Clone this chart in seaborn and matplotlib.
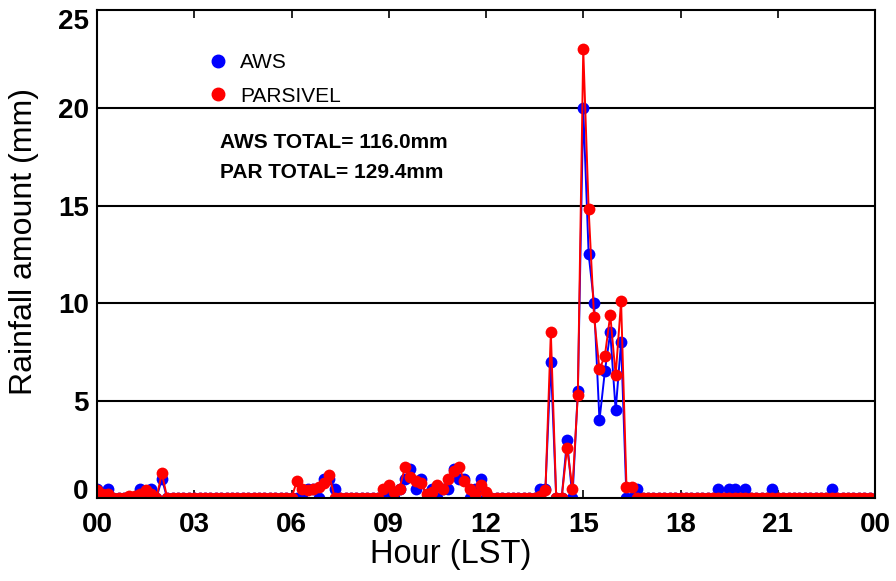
import numpy as np
import pandas as pd
import matplotlib
matplotlib.use("Agg")
import matplotlib.pyplot as plt
import matplotlib.transforms as mtransforms
from matplotlib.lines import Line2D
import seaborn as sns

# 10-minute rainfall (mm), one row per hour, 00:00 .. 23:50
AWS = [
    0.5, 0.0, 0.5, 0.0, 0.0, 0.0,   # 00
    0.0, 0.0, 0.5, 0.0, 0.5, 0.0,   # 01
    1.0, 0.0, 0.0, 0.0, 0.0, 0.0,   # 02
    0.0, 0.0, 0.0, 0.0, 0.0, 0.0,   # 03
    0.0, 0.0, 0.0, 0.0, 0.0, 0.0,   # 04
    0.0, 0.0, 0.0, 0.0, 0.0, 0.0,   # 05
    0.0, 0.0, 0.0, 0.5, 0.5, 0.0,   # 06
    1.0, 1.0, 0.5, 0.0, 0.0, 0.0,   # 07
    0.0, 0.0, 0.0, 0.0, 0.0, 0.0,   # 08
    0.5, 0.0, 0.5, 1.0, 1.5, 0.5,   # 09
    1.0, 0.0, 0.5, 0.0, 0.5, 0.5,   # 10
    1.5, 1.0, 1.0, 0.0, 0.5, 1.0,   # 11
    0.0, 0.0, 0.0, 0.0, 0.0, 0.0,   # 12
    0.0, 0.0, 0.0, 0.0, 0.5, 0.5,   # 13
    7.0, 0.0, 0.0, 3.0, 0.0, 5.5,   # 14
    20.0, 12.5, 10.0, 4.0, 6.5, 8.5,  # 15
    4.5, 8.0, 0.0, 0.0, 0.5, 0.0,   # 16
    0.0, 0.0, 0.0, 0.0, 0.0, 0.0,   # 17
    0.0, 0.0, 0.0, 0.0, 0.0, 0.0,   # 18
    0.0, 0.5, 0.0, 0.5, 0.5, 0.0,   # 19
    0.5, 0.0, 0.0, 0.0, 0.0, 0.5,   # 20
    0.0, 0.0, 0.0, 0.0, 0.0, 0.0,   # 21
    0.0, 0.0, 0.0, 0.0, 0.5, 0.0,   # 22
    0.0, 0.0, 0.0, 0.0, 0.0, 0.0,   # 23
]

PARSIVEL = [
    0.4, 0.2, 0.2, 0.0, 0.0, 0.0,   # 00
    0.1, 0.1, 0.2, 0.4, 0.2, 0.0,   # 01
    1.3, 0.0, 0.0, 0.0, 0.0, 0.0,   # 02
    0.0, 0.0, 0.0, 0.0, 0.0, 0.0,   # 03
    0.0, 0.0, 0.0, 0.0, 0.0, 0.0,   # 04
    0.0, 0.0, 0.0, 0.0, 0.0, 0.0,   # 05
    0.0, 0.9, 0.5, 0.4, 0.5, 0.6,   # 06
    0.8, 1.2, 0.0, 0.0, 0.0, 0.0,   # 07
    0.0, 0.0, 0.0, 0.0, 0.0, 0.5,   # 08
    0.7, 0.3, 0.5, 1.6, 1.1, 0.9,   # 09
    0.8, 0.2, 0.3, 0.7, 0.5, 1.0,   # 10
    1.4, 1.6, 0.9, 0.5, 0.2, 0.7,   # 11
    0.3, 0.0, 0.0, 0.0, 0.0, 0.0,   # 12
    0.0, 0.0, 0.0, 0.0, 0.1, 0.4,   # 13
    8.5, 0.0, 0.0, 2.6, 0.5, 5.3,   # 14
    23.0, 14.8, 9.3, 6.6, 7.3, 9.4,  # 15
    6.3, 10.1, 0.6, 0.6, 0.0, 0.0,  # 16
    0.0, 0.0, 0.0, 0.0, 0.0, 0.0,   # 17
    0.0, 0.0, 0.0, 0.0, 0.0, 0.0,   # 18
    0.0, 0.0, 0.0, 0.0, 0.0, 0.0,   # 19
    0.0, 0.0, 0.0, 0.0, 0.0, 0.0,   # 20
    0.0, 0.0, 0.0, 0.0, 0.0, 0.0,   # 21
    0.0, 0.0, 0.0, 0.0, 0.0, 0.0,   # 22
    0.0, 0.0, 0.0, 0.0, 0.0, 0.0,   # 23
]

AWS_TOTAL = 116.0
PAR_TOTAL = 129.4

XTICKS = [0, 3, 6, 9, 12, 15, 18, 21, 24]
XTICK_LABELS = ["00", "03", "06", "09", "12", "15", "18", "21", "00"]
YTICKS = [0, 5, 10, 15, 20, 25]

hours = np.arange(len(AWS)) * 10 / 60.0
df = pd.concat([
    pd.DataFrame({"hour": hours, "rain": AWS, "source": "AWS"}),
    pd.DataFrame({"hour": hours, "rain": PARSIVEL, "source": "PARSIVEL"}),
])

sns.set_style("white")
plt.rcParams["font.family"] = ["Liberation Sans", "DejaVu Sans"]
plt.rcParams["text.color"] = "black"
plt.rcParams["axes.labelcolor"] = "black"

fig = plt.figure(figsize=(8.96, 5.81), dpi=100)
ax = fig.add_axes([97 / 896, 1 - 498.3 / 581, 778 / 896, 487.9 / 581])

sns.lineplot(data=df, x="hour", y="rain", hue="source",
             palette={"AWS": "blue", "PARSIVEL": "red"},
             marker="o", markersize=8.5, markeredgewidth=0,
             linewidth=1.4, estimator=None, legend=False, ax=ax)

ax.set_xlim(0, 24)
ax.set_ylim(0, 25)
ax.set_xticks(XTICKS)
ax.set_xticklabels(XTICK_LABELS)
ax.set_yticks(YTICKS)
for y in YTICKS[1:-1]:
    ax.axhline(y, color="black", lw=1.5, zorder=0)

for s in ax.spines.values():
    s.set_color("black")
    s.set_linewidth(1.5)
    s.set_visible(True)

ax.tick_params(axis="x", direction="in", length=6, width=1.2, top=True,
               bottom=True, pad=10, labelsize=20, colors="black")
ax.tick_params(axis="y", direction="in", length=0, pad=6, labelsize=20,
               colors="black")
for lab in ax.get_xticklabels() + ax.get_yticklabels():
    lab.set_fontweight("bold")

# end labels on the y axis sit inside the axis range
ylabs = ax.get_yticklabels()
ylabs[0].set_transform(ylabs[0].get_transform() +
                       mtransforms.ScaledTranslation(0, 7 / 72, fig.dpi_scale_trans))
ylabs[-1].set_transform(ylabs[-1].get_transform() +
                        mtransforms.ScaledTranslation(0, -6 / 72, fig.dpi_scale_trans))

ax.set_xlabel("Hour (LST)", fontsize=23.5)
ax.set_ylabel("Rainfall amount (mm)", fontsize=23)
ax.xaxis.set_label_coords(0.455, -0.083)
ax.yaxis.set_label_coords(-0.074, 0.527)

handles = [
    Line2D([], [], marker="o", color="blue", linestyle="None", markersize=9),
    Line2D([], [], marker="o", color="red", linestyle="None", markersize=9),
]
fig.legend(handles, ["AWS", "PARSIVEL"], loc="upper left",
           bbox_to_anchor=(207.6 / 896, 1 - 53 / 581), frameon=False,
           fontsize=15, handlelength=1.0, handletextpad=0.56,
           labelspacing=0.7, borderpad=0, borderaxespad=0)

ax.text(0.158, 0.730, f"AWS TOTAL= {AWS_TOTAL:.1f}mm", transform=ax.transAxes,
        fontsize=15, fontweight="bold", va="center", ha="left")
ax.text(0.158, 0.667, f"PAR TOTAL= {PAR_TOTAL:.1f}mm", transform=ax.transAxes,
        fontsize=15, fontweight="bold", va="center", ha="left")

fig.savefig("out.png", dpi=100)
